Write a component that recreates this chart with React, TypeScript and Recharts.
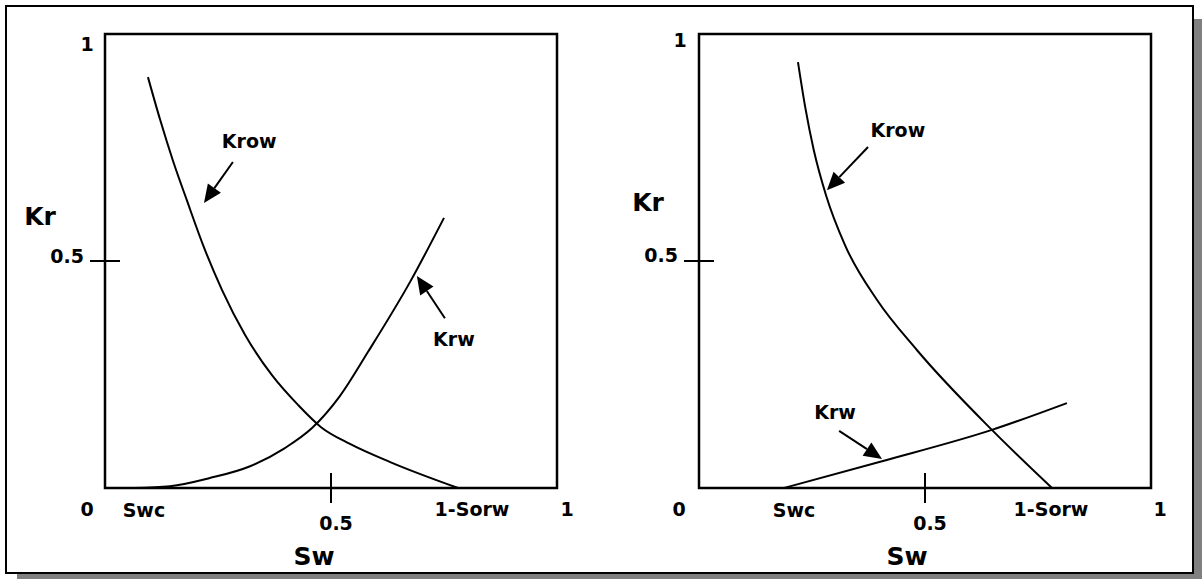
import { LineChart, Line, XAxis, YAxis, Label, ReferenceArea, ReferenceLine, ReferenceDot } from 'recharts';

const FONT = '"DejaVu Sans", Verdana, sans-serif';
const W = 1202;
const H = 579;

// water-wet case (left panel)
const leftKrowSw = [0.095, 0.122, 0.15, 0.181, 0.217, 0.259, 0.31, 0.369, 0.427, 0.478, 0.542, 0.631, 0.781];
const leftKrow = [0.905, 0.811, 0.722, 0.634, 0.535, 0.436, 0.337, 0.249, 0.183, 0.134, 0.097, 0.057, 0];
const leftKrwSw = [0.064, 0.144, 0.232, 0.321, 0.398, 0.458, 0.52, 0.582, 0.675, 0.75];
const leftKrw = [0, 0.004, 0.022, 0.048, 0.088, 0.132, 0.203, 0.3, 0.454, 0.595];

// oil-wet case (right panel)
const rightKrowSw = [0.219, 0.235, 0.254, 0.281, 0.323, 0.394, 0.482, 0.648, 0.781];
const rightKrow = [0.938, 0.839, 0.744, 0.645, 0.535, 0.414, 0.304, 0.128, 0];
const rightKrwSw = [0.188, 0.405, 0.648, 0.814];
const rightKrw = [0, 0.059, 0.128, 0.187];

// curve callouts: arrow tail -> tip, and label anchor (sw, kr)
const leftArrows = [
  { from: [0.283, 0.718], to: [0.219, 0.628] },
  { from: [0.752, 0.374], to: [0.69, 0.467] },
];
const leftCallouts = [
  { text: 'Krow', sw: 0.319, kr: 0.749 },
  { text: 'Krw', sw: 0.772, kr: 0.313 },
];
const rightArrows = [
  { from: [0.374, 0.751], to: [0.283, 0.656] },
  { from: [0.31, 0.126], to: [0.405, 0.064] },
];
const rightCallouts = [
  { text: 'Krow', sw: 0.44, kr: 0.773 },
  { text: 'Krw', sw: 0.301, kr: 0.152 },
];

const zip = (sw: number[], kr: number[]) => sw.map((s, i) => ({ sw: s, kr: kr[i] }));

type TickSpec = { value: number; text: string; dx: number; dy: number; mark?: boolean };

const textStyle = { fontFamily: FONT, fontWeight: 700, fill: '#000' };
const SMALL = 19;
const BIG = 25;

const XTick = (props: any) => {
  const { x, y, payload, specs } = props;
  const spec = specs.find((s: TickSpec) => Math.abs(s.value - payload.value) < 1e-9);
  if (!spec) return null;
  return (
    <g>
      {spec.mark && <line x1={x} y1={y - 15} x2={x} y2={y + 15} stroke="#000" strokeWidth={2} />}
      <text x={x + spec.dx} y={y + spec.dy} textAnchor="middle" fontSize={SMALL} style={textStyle}>
        {spec.text}
      </text>
    </g>
  );
};

const YTick = (props: any) => {
  const { x, y, payload, specs } = props;
  const spec = specs.find((s: TickSpec) => Math.abs(s.value - payload.value) < 1e-9);
  if (!spec) return null;
  return (
    <g>
      {spec.mark && <line x1={x - 15} y1={y} x2={x + 15} y2={y} stroke="#000" strokeWidth={2} />}
      <text
        x={x + spec.dx}
        y={y + spec.dy}
        textAnchor={spec.mark ? 'end' : 'middle'}
        fontSize={SMALL}
        style={textStyle}
      >
        {spec.text}
      </text>
    </g>
  );
};

const Arrow = (props: any) => {
  const { x1, y1, x2, y2 } = props;
  const dx = x2 - x1;
  const dy = y2 - y1;
  const len = Math.sqrt(dx * dx + dy * dy);
  const ux = dx / len;
  const uy = dy / len;
  const headLen = 18;
  const half = 8;
  const bx = x2 - ux * headLen;
  const by = y2 - uy * headLen;
  return (
    <g>
      <line x1={x1} y1={y1} x2={bx} y2={by} stroke="#000" strokeWidth={2} />
      <polygon
        points={`${x2},${y2} ${bx - uy * half},${by + ux * half} ${bx + uy * half},${by - ux * half}`}
        fill="#000"
      />
    </g>
  );
};

type PanelProps = {
  boxLeft: number;
  boxRight: number;
  krow: { sw: number; kr: number }[];
  krw: { sw: number; kr: number }[];
  arrows: { from: number[]; to: number[] }[];
  callouts: { text: string; sw: number; kr: number }[];
  xSpecs: TickSpec[];
  ySpecs: TickSpec[];
  krTitle: { dx: number; dy: number };
  swTitleDx: number;
};

const BOX_TOP = 34;
const BOX_BOTTOM = 488;

function Panel(p: PanelProps) {
  // axes get 1px so they still render; margins absorb it
  return (
    <div style={{ position: 'absolute', left: 0, top: 0 }}>
      <LineChart
        width={W}
        height={H}
        margin={{ left: p.boxLeft - 1, right: W - p.boxRight, top: BOX_TOP, bottom: H - BOX_BOTTOM - 1 }}
      >
        <XAxis
          dataKey="sw"
          type="number"
          domain={[0, 1]}
          ticks={p.xSpecs.map((s) => s.value)}
          interval={0}
          height={1}
          axisLine={false}
          tickLine={false}
          tickSize={0}
          tickMargin={0}
          tick={(t: any) => <XTick {...t} specs={p.xSpecs} />}
        >
          <Label
            content={(l: any) => (
              <text
                x={l.viewBox.x + l.viewBox.width / 2 + p.swTitleDx}
                y={l.viewBox.y + 77}
                textAnchor="middle"
                fontSize={BIG}
                style={textStyle}
              >
                Sw
              </text>
            )}
          />
        </XAxis>
        <YAxis
          dataKey="kr"
          type="number"
          domain={[0, 1]}
          ticks={p.ySpecs.map((s) => s.value)}
          interval={0}
          width={1}
          axisLine={false}
          tickLine={false}
          tickSize={0}
          tickMargin={0}
          tick={(t: any) => <YTick {...t} specs={p.ySpecs} />}
        >
          <Label
            content={(l: any) => (
              <text
                x={l.viewBox.x + 1 + p.krTitle.dx}
                y={l.viewBox.y + p.krTitle.dy}
                textAnchor="middle"
                fontSize={BIG}
                style={textStyle}
              >
                Kr
              </text>
            )}
          />
        </YAxis>
        <ReferenceArea x1={0} x2={1} y1={0} y2={1} fill="none" stroke="#000" strokeWidth={2.5} />
        <Line data={p.krow} dataKey="kr" type="monotone" stroke="#000" strokeWidth={2} dot={false} isAnimationActive={false} />
        <Line data={p.krw} dataKey="kr" type="monotone" stroke="#000" strokeWidth={2} dot={false} isAnimationActive={false} />
        {p.arrows.map((a, i) => (
          <ReferenceLine
            key={`arrow-${i}`}
            segment={[
              { x: a.from[0], y: a.from[1] },
              { x: a.to[0], y: a.to[1] },
            ]}
            shape={Arrow}
          />
        ))}
        {p.callouts.map((c) => (
          <ReferenceDot
            key={c.text}
            x={c.sw}
            y={c.kr}
            r={0}
            shape={(d: any) => (
              <text x={d.cx} y={d.cy} textAnchor="middle" fontSize={SMALL} style={textStyle}>
                {c.text}
              </text>
            )}
          />
        ))}
      </LineChart>
    </div>
  );
}

const leftKrowData = zip(leftKrowSw, leftKrow);
const leftKrwData = zip(leftKrwSw, leftKrw);
const rightKrowData = zip(rightKrowSw, rightKrow);
const rightKrwData = zip(rightKrwSw, rightKrw);

export default function App() {
  return (
    <div style={{ position: 'absolute', left: 0, top: 0, width: W, height: H, background: '#fff', overflow: 'hidden' }}>
      <div style={{ position: 'absolute', left: 17, top: 19, width: W - 17, height: H - 19, background: '#808080' }} />
      <div
        style={{
          position: 'absolute',
          left: 5,
          top: 5,
          width: 1189,
          height: 569,
          border: '2px solid #000',
          boxSizing: 'border-box',
          background: '#fff',
        }}
      />
      <Panel
        boxLeft={105}
        boxRight={557}
        krow={leftKrowData}
        krw={leftKrwData}
        arrows={leftArrows}
        callouts={leftCallouts}
        xSpecs={[
          { value: 0, text: '0', dx: -18, dy: 28 },
          { value: leftKrwSw[0], text: 'Swc', dx: 10, dy: 29 },
          { value: 0.5, text: '0.5', dx: 5, dy: 42, mark: true },
          { value: leftKrowSw[leftKrowSw.length - 1], text: '1-Sorw', dx: 14, dy: 28 },
          { value: 1, text: '1', dx: 10, dy: 28 },
        ]}
        ySpecs={[
          { value: 0.5, text: '0.5', dx: -21, dy: 2, mark: true },
          { value: 1, text: '1', dx: -18, dy: 17 },
        ]}
        krTitle={{ dx: -65, dy: 191 }}
        swTitleDx={-17}
      />
      <Panel
        boxLeft={699}
        boxRight={1151}
        krow={rightKrowData}
        krw={rightKrwData}
        arrows={rightArrows}
        callouts={rightCallouts}
        xSpecs={[
          { value: 0, text: '0', dx: -20, dy: 28 },
          { value: rightKrwSw[0], text: 'Swc', dx: 10, dy: 29 },
          { value: 0.5, text: '0.5', dx: 5, dy: 42, mark: true },
          { value: rightKrowSw[rightKrowSw.length - 1], text: '1-Sorw', dx: -1, dy: 28 },
          { value: 1, text: '1', dx: 9, dy: 28 },
        ]}
        ySpecs={[
          { value: 0.5, text: '0.5', dx: -21, dy: 1, mark: true },
          { value: 1, text: '1', dx: -19, dy: 13 },
        ]}
        krTitle={{ dx: -51, dy: 177 }}
        swTitleDx={-18}
      />
    </div>
  );
}
